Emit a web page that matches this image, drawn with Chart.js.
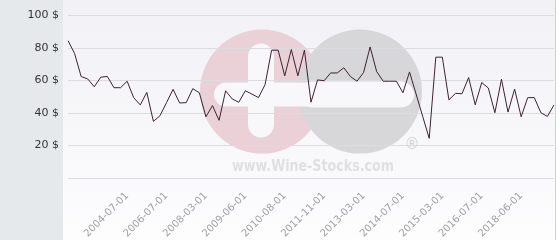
<!DOCTYPE html>
<html>
<head>
<meta charset="utf-8">
<script src="https://cdn.jsdelivr.net/npm/chart.js@4.4.3/dist/chart.umd.min.js"></script>
<style>
    html, body { margin: 0; padding: 0; background: #fff; }
    #wrap { width: 560px; height: 240px; position: relative; }
</style>
</head>
<body>
<div id="wrap"><canvas id="chart" width="560" height="240"></canvas></div>
<script>
// price per bottle, in $, one value per quote
const prices = [
    84.6, 76.7, 62.5, 61, 56.2, 62.1, 62.5, 55.6, 55.6, 59.6,
    49.5, 45, 52.7, 34.9, 38.3, 46.4, 54.6, 46.2, 46.4, 55,
    52.5, 37.7, 44.6, 35.5, 53.7, 48.7, 46.6, 53.7, 51.7, 49.5,
    57.4, 78.7, 78.7, 62.9, 79.1, 62.9, 78.7, 46.7, 60.4, 59.9,
    64.7, 64.7, 67.9, 62.5, 59.6, 64.9, 80.7, 65.5, 59.6, 59.6,
    59.6, 52.5, 65.3, 51.7, 38, 24.4, 74.4, 74.4, 48.1, 52.1,
    51.9, 61.9, 45.1, 58.8, 55.4, 40.2, 60.8, 40.6, 54.8, 37.7,
    49.5, 49.5, 40.2, 37.9, 45
];

// dates shown under the axis and the quote they belong to
const tickDates = ['2004-07-01', '2006-07-01', '2008-03-01', '2009-06-01', '2010-08-01', '2011-11-01',
    '2013-03-01', '2014-07-01', '2015-03-01', '2016-07-01', '2018-06-01'];
const tickIndex = [9, 15, 21, 27, 33, 39, 45, 51, 57, 63, 69];

const yTicks = [0, 20, 40, 60, 80, 100];

const categories = prices.map((_, i) => {
    const k = tickIndex.indexOf(i);
    return k >= 0 ? tickDates[k] : '';
});

// backdrop: grey side panel, pale plot background, wine-stocks watermark
const backdrop = {
    id: 'backdrop',
    beforeDraw(chart) {
        const ctx = chart.ctx;
        const a = chart.chartArea;
        const H = chart.height;
        ctx.save();
        ctx.fillStyle = '#e6e9ec';
        ctx.fillRect(0, 0, a.left - 5, H);
        const g = ctx.createLinearGradient(0, 0, 0, H);
        g.addColorStop(0, '#f1f1f6');
        g.addColorStop(1, '#fdfdfe');
        ctx.fillStyle = g;
        ctx.fillRect(a.left - 5, 0, a.right - a.left + 6, H);
        ctx.strokeStyle = '#cfcfd4';
        ctx.beginPath();
        ctx.moveTo(a.right + 1.5, 0);
        ctx.lineTo(a.right + 1.5, H);
        ctx.stroke();

        // watermark logo
        const cy = a.top + 76, r = 62;
        const c1 = a.left + 194, c2 = a.left + 292;
        ctx.fillStyle = '#ead0d7';
        ctx.beginPath(); ctx.arc(c1, cy, r, 0, Math.PI * 2); ctx.fill();
        ctx.fillStyle = '#d7d7d9';
        ctx.beginPath(); ctx.arc(c2, cy, r, 0, Math.PI * 2); ctx.fill();
        ctx.fillStyle = '#f8f8fa';
        const bar = (x, y, w, h) => {
            ctx.beginPath();
            ctx.roundRect(x, y, w, h, Math.min(w, h) / 2);
            ctx.fill();
        };
        bar(c1 - 14, cy - 48, 26, 94);
        bar(c1 - 48, cy - 9, 120, 24);
        bar(c2 - 60, cy - 10, 114, 26);

        ctx.fillStyle = '#e0e0e2';
        ctx.font = 'bold 15px "DejaVu Sans"';
        ctx.textAlign = 'center';
        ctx.textBaseline = 'middle';
        const txt = 'www.Wine-Stocks.com';
        const tw = ctx.measureText(txt).width;
        ctx.save();
        ctx.translate(a.left + 245, a.top + 152);
        ctx.scale(162 / tw, 1);
        ctx.fillText(txt, 0, 0);
        ctx.restore();
        ctx.font = '15px "DejaVu Sans"';
        ctx.fillStyle = '#d3d3d5';
        ctx.fillText('®', a.left + 344, a.top + 130);
        ctx.restore();
    }
};

new Chart(document.getElementById('chart'), {
    type: 'line',
    data: {
        labels: categories,
        datasets: [{
            data: prices,
            borderColor: '#3a2430',
            borderWidth: 1,
            pointRadius: 0,
            tension: 0,
            fill: false
        }]
    },
    options: {
        responsive: false,
        animation: false,
        layout: { padding: { left: 0, right: 6, top: 9, bottom: 0 } },
        plugins: { legend: { display: false }, tooltip: { enabled: false } },
        scales: {
            x: {
                offset: false,
                grid: { display: false },
                border: { display: false },
                ticks: {
                    autoSkip: false,
                    maxRotation: 45,
                    minRotation: 45,
                    padding: 4,
                    color: '#a0a0a4',
                    font: { family: 'DejaVu Sans', size: 10 }
                },
                afterFit: s => {
                    s.height = 62;
                    s.paddingLeft = 0;
                    s.paddingRight = 0;
                }
            },
            y: {
                min: yTicks[0],
                max: yTicks[yTicks.length - 1],
                afterBuildTicks: s => { s.ticks = yTicks.map(v => ({ value: v })); },
                grid: { color: '#dcdce0', drawTicks: false },
                border: { display: false },
                ticks: {
                    padding: 9,
                    color: '#333',
                    font: { family: 'DejaVu Sans', size: 11 },
                    callback: v => v === 0 ? '' : v + ' $'
                },
                afterFit: s => { s.width = 68; }
            }
        }
    },
    plugins: [backdrop]
});
</script>
</body>
</html>
